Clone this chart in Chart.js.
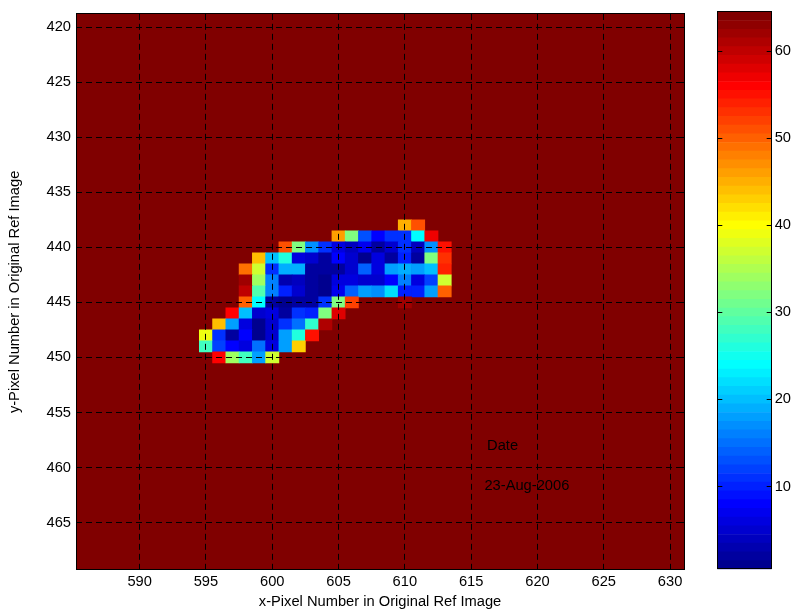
<!DOCTYPE html>
<html><head><meta charset="utf-8">
<script src="https://cdn.jsdelivr.net/npm/chart.js@4/dist/chart.umd.min.js"></script>
<style>
html,body{margin:0;padding:0;background:#fff;}
#wrap{position:relative;width:799px;height:613px;overflow:hidden;}
#main{position:absolute;left:0;top:0;}
#cbar{position:absolute;left:700px;top:0;}
</style></head><body>
<div id="wrap">
<canvas id="main" width="700" height="613" style="width:700px;height:613px"></canvas>
<canvas id="cbar" width="99" height="613" style="width:99px;height:613px"></canvas>
</div>
<script>
// ---------------- data ----------------
const xColumns = [595,596,597,598,599,600,601,602,603,604,605,606,607,608,609,610,611,612,613];
const yRows    = [438,439,440,441,442,443,444,445,446,447,448,449,450];
const fillValue = 64;   // value of every image pixel outside the listed block
const row438 = [64,64,64,64,64,64,64,64,64,64,64,64,64,64,64,45,51,64,64];
const row439 = [64,64,64,64,64,64,64,64,64,64,46,32,13, 8,11,11,24,57,64];
const row440 = [64,64,64,64,64,64,51,32,17,11, 6, 4, 7, 2, 5,11, 4,17,55];
const row441 = [64,64,64,64,44,20,26, 6, 5, 2, 8, 5, 1, 6, 2,10, 2,32,53];
const row442 = [64,64,64,49,37,11,19,19, 2, 2, 2, 5,14, 6,18,19,18,20,54];
const row443 = [64,64,64,62,34,16, 3, 4, 2, 1, 6, 6, 5, 5, 8,16, 6,12,37];
const row444 = [64,64,64,60,29,16,10, 5, 2, 1, 7,14,18,17,22,10,10,18,50];
const row445 = [64,64,64,50,24, 2, 1, 2, 2,11,32,52,64,64,64,62,64,64,64];
const row446 = [64,64,56,20, 5, 6, 2,11,10,32,58,64,64,64,64,64,64,64,64];
const row447 = [64,44,18, 6, 1, 5,11,15,27,61,64,64,64,64,64,64,64,64,64];
const row448 = [39,11, 2, 8, 1, 5,18,26,55,64,64,64,64,64,64,64,64,64,64];
const row449 = [28,12, 8, 6,15, 6,18,43,64,64,64,64,64,64,64,64,64,64,64];
const row450 = [64,56,34,28,18,37,64,64,64,64,64,64,64,64,64,64,64,64,64];
const cellRows = [row438,row439,row440,row441,row442,row443,row444,row445,row446,row447,row448,row449,row450];

const xRange = [585.2, 631.05];
const yRange = [418.8, 469.3];
const xTickValues = [590,595,600,605,610,615,620,625,630];
const yTickValues = [420,425,430,435,440,445,450,455,460,465];
const colorLevels = 64;
const colorbarTickValues = [10,20,30,40,50,60];
const xTitle = 'x-Pixel Number in Original Ref Image';
const yTitle = 'y-Pixel Number in Original Ref Image';
const noteTexts = ['Date', '23-Aug-2006'];
const noteX = [616.2, 616.0];
const noteY = [458.05, 461.65];

// ---------------- jet colormap ----------------
function jetColor(k, m) {
  m = m || colorLevels;
  const n = Math.ceil(m / 4);
  const u = j => (j >= 1 && j <= n) ? j / n : (j > n && j < 2 * n) ? 1 : (j >= 2 * n && j <= 3 * n - 1) ? (3 * n - j) / n : 0;
  const off = Math.ceil(n / 2) - (m % 4 === 1 ? 1 : 0);
  const g = u(k - off);
  const r = u(k - off - n);
  const b = u(k - off + n);
  const c = v => Math.round(v * 255);
  return 'rgb(' + c(r) + ',' + c(g) + ',' + c(b) + ')';
}

const FONT_FAMILY = "'Liberation Sans', Arial, Helvetica, sans-serif";
const FONT = {family: FONT_FAMILY, size: 14.7};

// ---------------- image cells ----------------
const cells = [], cellColors = [];
yRows.forEach((yv, r) => {
  cellRows[r].forEach((v, c) => {
    if (v === fillValue) return;
    cells.push({y: yv, x: [xColumns[c] - 0.5, xColumns[c] + 0.5]});
    cellColors.push(jetColor(v));
  });
});

const alignPx = p => Math.round(p - 0.5) + 0.5;

const imagePlugin = {
  id: 'imageFrame',
  beforeDraw(chart) {
    const {ctx, chartArea: a} = chart;
    ctx.save();
    ctx.fillStyle = jetColor(fillValue);
    ctx.fillRect(a.left, a.top, a.right - a.left, a.bottom - a.top);
    ctx.restore();
  },
  afterDraw(chart) {
    const {ctx, chartArea: a, scales: {x, y}} = chart;
    ctx.save();
    ctx.strokeStyle = '#000';
    ctx.lineWidth = 1;
    const tl = 6;
    ctx.beginPath();
    xTickValues.forEach(v => {
      const px = alignPx(x.getPixelForValue(v));
      ctx.moveTo(px, a.bottom); ctx.lineTo(px, a.bottom - tl);
      ctx.moveTo(px, a.top); ctx.lineTo(px, a.top + tl);
    });
    yTickValues.forEach(v => {
      const py = alignPx(y.getPixelForValue(v));
      ctx.moveTo(a.left, py); ctx.lineTo(a.left + tl, py);
      ctx.moveTo(a.right, py); ctx.lineTo(a.right - tl, py);
    });
    ctx.stroke();
    ctx.strokeRect(alignPx(a.left), alignPx(a.top), Math.round(a.right - a.left), Math.round(a.bottom - a.top));
    ctx.fillStyle = '#000';
    ctx.font = FONT.size + 'px ' + FONT_FAMILY;
    ctx.textAlign = 'left';
    ctx.textBaseline = 'middle';
    noteTexts.forEach((t, i) => ctx.fillText(t, x.getPixelForValue(noteX[i]), y.getPixelForValue(noteY[i])));
    ctx.restore();
  }
};

new Chart(document.getElementById('main'), {
  type: 'bar',
  data: {
    datasets: [{
      data: cells,
      backgroundColor: cellColors,
      borderWidth: 0,
      barPercentage: 1,
      categoryPercentage: 1,
      grouped: false
    }]
  },
  options: {
    responsive: false,
    animation: false,
    indexAxis: 'y',
    layout: {padding: {top: 11, right: 16, left: 0, bottom: 0}},
    plugins: {legend: {display: false}, tooltip: {enabled: false}},
    scales: {
      x: {
        type: 'linear', position: 'bottom', min: xRange[0], max: xRange[1], beginAtZero: false,
        afterBuildTicks: s => { s.ticks = xTickValues.map(v => ({value: v})); },
        afterFit: s => { s.height = 43; },
        grid: {color: '#000', lineWidth: 1, drawTicks: false, z: 1},
        border: {display: false, dash: [6, 4]},
        ticks: {color: '#000', font: FONT, padding: 2.7, maxRotation: 0, autoSkip: false},
        title: {display: true, text: xTitle, color: '#000', font: FONT, padding: {top: 0, bottom: 2.2}}
      },
      y: {
        type: 'linear', position: 'left', reverse: true, min: yRange[0], max: yRange[1], offset: false,
        afterBuildTicks: s => { s.ticks = yTickValues.map(v => ({value: v})); },
        afterFit: s => { s.width = 76; },
        grid: {color: '#000', lineWidth: 1, drawTicks: false, z: 1, offset: false},
        border: {display: false, dash: [6, 4]},
        ticks: {color: '#000', font: FONT, padding: 5, autoSkip: false},
        title: {display: true, text: yTitle, color: '#000', font: FONT, padding: {top: 5.7, bottom: 0}}
      }
    }
  },
  plugins: [imagePlugin]
});

// ---------------- colorbar ----------------
const levelDatasets = [];
for (let k = 1; k <= colorLevels; k++) {
  levelDatasets.push({
    data: [[k - 0.5, k + 0.5]],
    backgroundColor: jetColor(k),
    borderWidth: 0,
    barPercentage: 1,
    categoryPercentage: 1,
    grouped: false
  });
}

const colorbarFrame = {
  id: 'colorbarFrame',
  afterDraw(chart) {
    const {ctx, chartArea: a, scales: {y}} = chart;
    ctx.save();
    ctx.strokeStyle = '#000';
    ctx.lineWidth = 1;
    const tl = 5;
    ctx.beginPath();
    colorbarTickValues.forEach(v => {
      const py = alignPx(y.getPixelForValue(v));
      ctx.moveTo(a.left, py); ctx.lineTo(a.left + tl, py);
      ctx.moveTo(a.right, py); ctx.lineTo(a.right - tl, py);
    });
    ctx.stroke();
    ctx.strokeRect(alignPx(a.left), alignPx(a.top), Math.round(a.right - a.left), Math.round(a.bottom - a.top));
    ctx.restore();
  }
};

new Chart(document.getElementById('cbar'), {
  type: 'bar',
  data: {labels: [''], datasets: levelDatasets},
  options: {
    responsive: false,
    animation: false,
    layout: {padding: {left: 17.3, top: 11, bottom: 43.7, right: 0}},
    plugins: {legend: {display: false}, tooltip: {enabled: false}},
    scales: {
      x: {display: false},
      y: {
        type: 'linear', position: 'right', min: 0.5, max: colorLevels + 0.5, beginAtZero: false,
        afterBuildTicks: s => { s.ticks = colorbarTickValues.map(v => ({value: v})); },
        afterFit: s => { s.width = 27.3; },
        grid: {display: false, drawTicks: false},
        border: {display: false},
        ticks: {color: '#000', font: FONT, padding: 3, autoSkip: false}
      }
    }
  },
  plugins: [colorbarFrame]
});
</script>
</body></html>
